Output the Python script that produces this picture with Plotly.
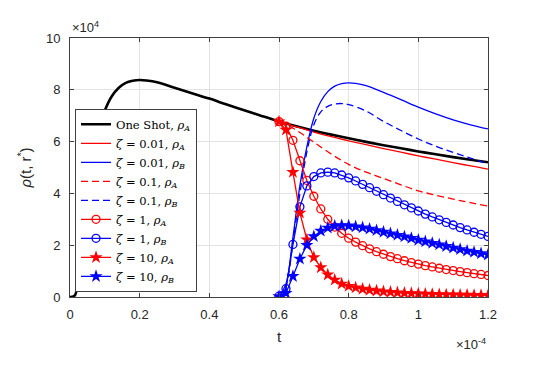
import plotly.graph_objects as go

# time in units of 1e-4, density in units of 1e4
t_one_shot = [0, 0.01, 0.015, 0.02, 0.03, 0.04, 0.05, 0.06, 0.07, 0.08, 0.09, 0.10,
              0.12, 0.14, 0.16, 0.18, 0.20, 0.22, 0.25, 0.30, 0.35, 0.40, 0.45, 0.50,
              0.55, 0.60, 0.65, 0.70, 0.75, 0.80, 0.85, 0.90, 0.95, 1.00, 1.05, 1.10,
              1.15, 1.20]
rho_one_shot = [0, 0.02, 0.08, 0.35, 1.3, 2.5, 3.7, 4.75, 5.6, 6.3, 6.8, 7.2,
                7.75, 8.08, 8.27, 8.35, 8.38, 8.36, 8.29, 8.08, 7.87, 7.66, 7.43, 7.21,
                6.99, 6.78, 6.59, 6.42, 6.27, 6.13, 5.99, 5.86, 5.74, 5.62, 5.51, 5.40,
                5.30, 5.20]

t_z001_A = [0.60, 0.65, 0.70, 0.75, 0.80, 0.85, 0.90, 0.95, 1.00, 1.05, 1.10, 1.15, 1.20]
rho_z001_A = [6.78, 6.57, 6.37, 6.19, 6.03, 5.88, 5.73, 5.59, 5.45, 5.32, 5.19, 5.06, 4.94]

t_z001_B = [0.60, 0.62, 0.64, 0.66, 0.68, 0.70, 0.72, 0.74, 0.76, 0.78, 0.80, 0.82,
            0.85, 0.90, 0.95, 1.00, 1.05, 1.10, 1.15, 1.20]
rho_z001_B = [0.0, 0.5, 2.3, 4.3, 5.8, 6.9, 7.55, 7.93, 8.14, 8.24, 8.27, 8.25,
              8.16, 7.90, 7.62, 7.33, 7.07, 6.84, 6.65, 6.49]

t_z01_A = [0.60, 0.63, 0.66, 0.70, 0.75, 0.80, 0.85, 0.90, 0.95, 1.00, 1.05, 1.10, 1.15, 1.20]
rho_z01_A = [6.78, 6.6, 6.35, 5.98, 5.52, 5.12, 4.82, 4.58, 4.33, 4.10, 3.93, 3.78, 3.64, 3.51]

t_z01_B = [0.60, 0.62, 0.64, 0.66, 0.68, 0.70, 0.72, 0.74, 0.76, 0.78, 0.80, 0.85,
           0.90, 0.95, 1.00, 1.05, 1.10, 1.15, 1.20]
rho_z01_B = [0.0, 0.45, 2.1, 4.0, 5.6, 6.65, 7.15, 7.36, 7.45, 7.47, 7.43, 7.18,
             6.78, 6.43, 6.10, 5.82, 5.58, 5.36, 5.14]

t_marked = [0.60, 0.62, 0.64, 0.66, 0.68, 0.70, 0.72, 0.74, 0.76, 0.78, 0.80,
            0.82, 0.84, 0.86, 0.88, 0.90, 0.92, 0.94, 0.96, 0.98, 1.00,
            1.02, 1.04, 1.06, 1.08, 1.10, 1.12, 1.14, 1.16, 1.18, 1.20]
rho_z1_A = [6.77, 6.60, 6.05, 5.26, 4.50, 3.89, 3.40, 3.00, 2.70, 2.46, 2.27,
            2.12, 1.98, 1.86, 1.75, 1.65, 1.56, 1.48, 1.40, 1.33, 1.27,
            1.21, 1.16, 1.11, 1.06, 1.02, 0.98, 0.94, 0.90, 0.87, 0.83]
rho_z1_B = [0.03, 0.32, 2.03, 3.48, 4.29, 4.65, 4.79, 4.82, 4.79, 4.71, 4.60,
            4.48, 4.35, 4.22, 4.08, 3.95, 3.82, 3.69, 3.56, 3.44, 3.32,
            3.20, 3.09, 2.98, 2.88, 2.78, 2.68, 2.59, 2.50, 2.42, 2.34]
rho_z10_A = [6.77, 6.45, 4.82, 3.25, 2.21, 1.53, 1.14, 0.86, 0.66, 0.51, 0.42,
             0.36, 0.31, 0.27, 0.24, 0.21, 0.19, 0.17, 0.15, 0.14, 0.13,
             0.12, 0.11, 0.10, 0.09, 0.09, 0.08, 0.08, 0.07, 0.07, 0.06]
rho_z10_B = [0.02, 0.15, 0.80, 1.47, 2.00, 2.34, 2.55, 2.67, 2.74, 2.76, 2.75,
             2.72, 2.68, 2.63, 2.57, 2.51, 2.45, 2.39, 2.33, 2.27, 2.20,
             2.14, 2.08, 2.02, 1.96, 1.90, 1.84, 1.78, 1.73, 1.68, 1.63]

x_ticks = [0, 0.2, 0.4, 0.6, 0.8, 1.0, 1.2]
x_tick_labels = ["0", "0.2", "0.4", "0.6", "0.8", "1", "1.2"]
y_ticks = [0, 2, 4, 6, 8, 10]

RED = "#ff0000"
BLUE = "#0000ff"
lbl = lambda z, s: "<i>ζ</i> = %s, <i>ρ</i><sub><i>%s</i></sub>" % (z, s)

fig = go.Figure()
fig.add_trace(go.Scatter(x=t_one_shot, y=rho_one_shot, mode="lines", line_shape="spline",
                         line=dict(color="black", width=2.6),
                         name="One Shot, <i>ρ</i><sub><i>A</i></sub>"))
fig.add_trace(go.Scatter(x=t_z001_A, y=rho_z001_A, mode="lines", line_shape="spline",
                         line=dict(color=RED, width=1.3), name=lbl("0.01", "A")))
fig.add_trace(go.Scatter(x=t_z001_B, y=rho_z001_B, mode="lines", line_shape="spline",
                         line=dict(color=BLUE, width=1.3), name=lbl("0.01", "B")))
fig.add_trace(go.Scatter(x=t_z01_A, y=rho_z01_A, mode="lines", line_shape="spline",
                         line=dict(color=RED, width=1.3, dash="7px,4px"), name=lbl("0.1", "A")))
fig.add_trace(go.Scatter(x=t_z01_B, y=rho_z01_B, mode="lines", line_shape="spline",
                         line=dict(color=BLUE, width=1.3, dash="7px,4px"), name=lbl("0.1", "B")))
fig.add_trace(go.Scatter(x=t_marked, y=rho_z1_A, mode="lines+markers",
                         line=dict(color=RED, width=1.3),
                         marker=dict(symbol="circle-open", size=8, color=RED, line=dict(width=1.3)),
                         name=lbl("1", "A")))
fig.add_trace(go.Scatter(x=t_marked, y=rho_z1_B, mode="lines+markers",
                         line=dict(color=BLUE, width=1.3),
                         marker=dict(symbol="circle-open", size=8, color=BLUE, line=dict(width=1.3)),
                         name=lbl("1", "B")))
fig.add_trace(go.Scatter(x=t_marked, y=rho_z10_A, mode="lines+markers",
                         line=dict(color=RED, width=1.3),
                         marker=dict(symbol="star", size=10, color=RED),
                         name=lbl("10", "A")))
fig.add_trace(go.Scatter(x=t_marked, y=rho_z10_B, mode="lines+markers",
                         line=dict(color=BLUE, width=1.3),
                         marker=dict(symbol="star", size=10, color=BLUE),
                         name=lbl("10", "B")))

axis_common = dict(showgrid=True, gridcolor="#e3e3e3", gridwidth=0.8, automargin=False,
                   showline=True, linecolor="#404040", linewidth=1, mirror="ticks",
                   ticks="inside", ticklen=4, tickcolor="#404040", zeroline=False,
                   tickfont=dict(family="Liberation Sans", size=13, color="#262626"))

fig.update_xaxes(range=[0, 1.2], tickvals=x_ticks, ticktext=x_tick_labels,
                 ticklabelstandoff=5,
                 title=dict(text="t", standoff=10,
                            font=dict(family="Liberation Sans", size=15, color="#262626")),
                 **axis_common)
fig.update_yaxes(range=[0, 10], tickvals=y_ticks, ticklabelstandoff=6,
                 title=dict(text="<i>ρ</i>(t, r<sup>*</sup>)", standoff=10,
                            font=dict(family="Liberation Sans", size=15, color="#262626")),
                 **axis_common)

fig.add_annotation(text="×10<sup>4</sup>", xref="paper", yref="paper", x=0, y=1,
                   xanchor="left", yanchor="bottom", yshift=1, showarrow=False,
                   font=dict(family="Liberation Sans", size=13, color="#262626"))
fig.add_annotation(text="×10<sup>-4</sup>", xref="paper", yref="paper", x=1, y=0,
                   xanchor="right", yanchor="top", yshift=-37, showarrow=False,
                   font=dict(family="Liberation Sans", size=13, color="#262626"))

# page body keeps an 8px margin, so the figure is sized to the remaining window
fig.update_layout(
    width=524, height=357,
    margin=dict(l=61.5, r=44, t=30, b=68),
    paper_bgcolor="white", plot_bgcolor="white",
    showlegend=True,
    legend=dict(x=0.012, y=0.02, xanchor="left", yanchor="bottom",
                bgcolor="white", bordercolor="#404040", borderwidth=1,
                font=dict(family="DejaVu Serif", size=11.5, color="black"),
                tracegroupgap=0),
)

fig.write_html("out.html")
